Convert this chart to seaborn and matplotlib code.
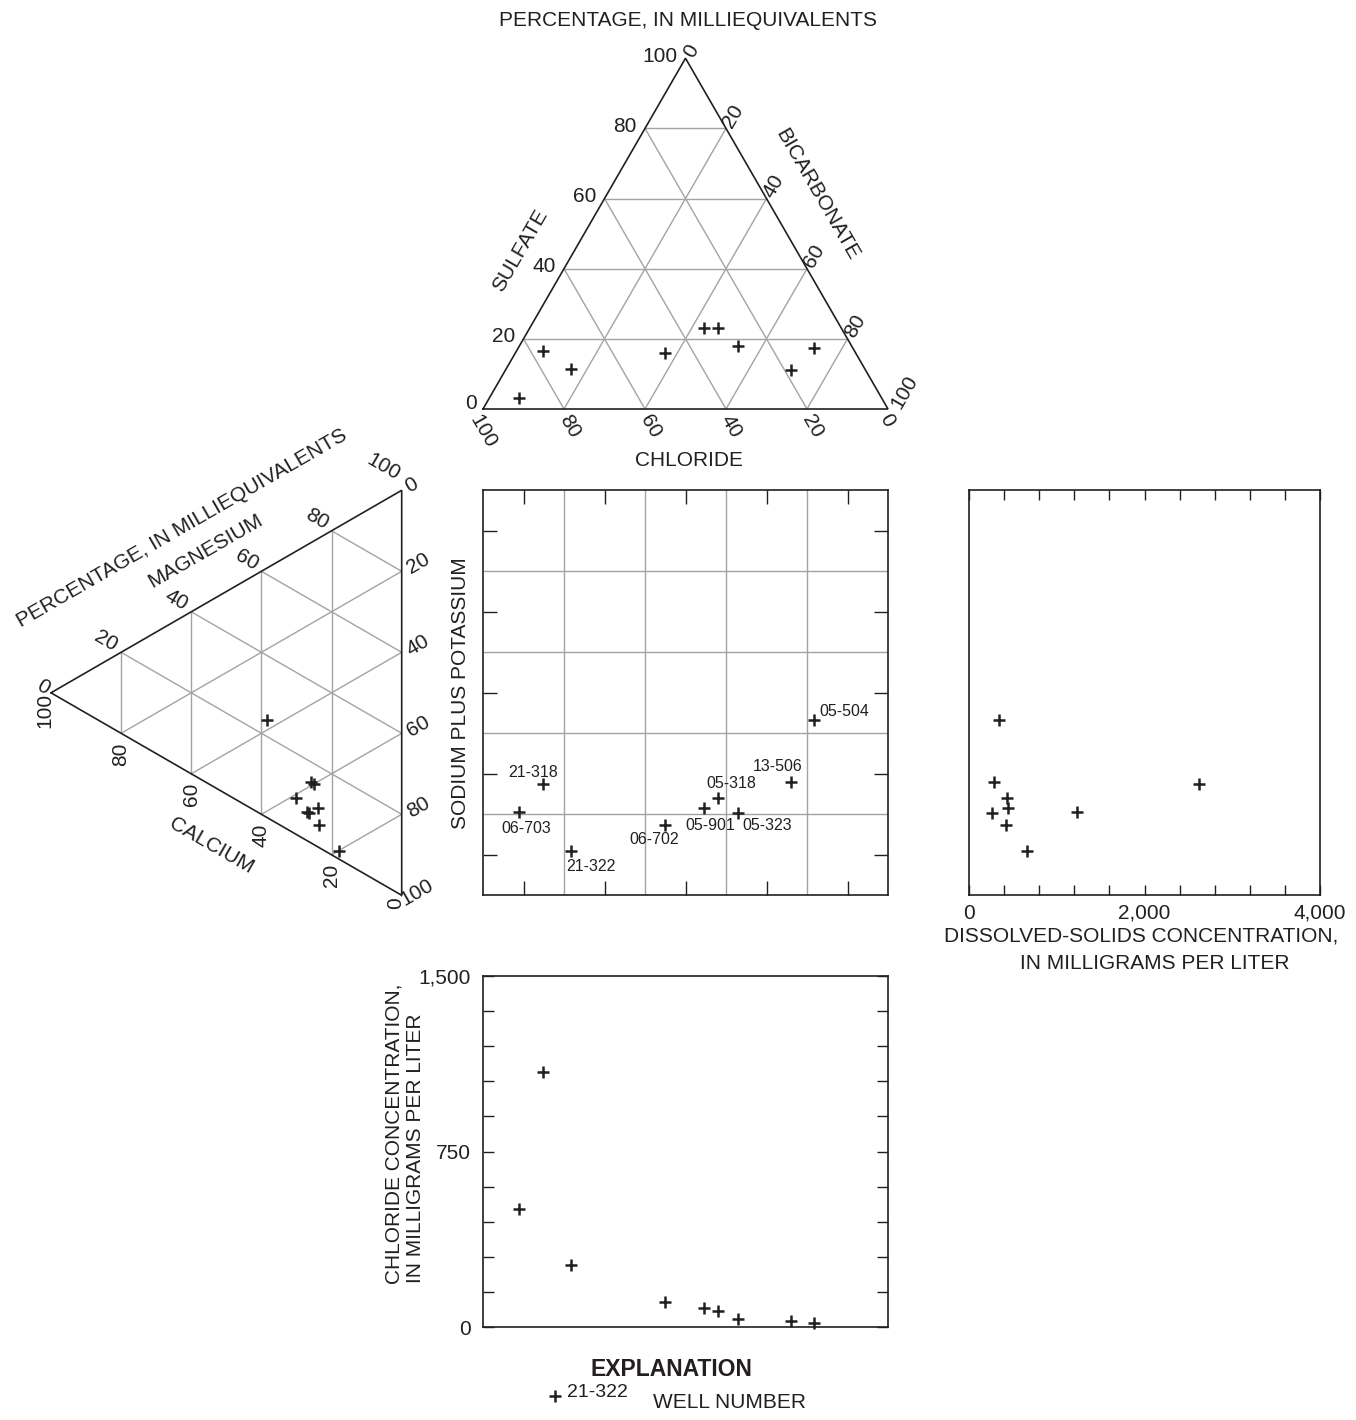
import numpy as np
import pandas as pd
import matplotlib
matplotlib.use("Agg")
import matplotlib.pyplot as plt
import seaborn as sns
from matplotlib.lines import Line2D
from matplotlib.ticker import MultipleLocator

# ---------------- data ----------------
wells = ["06-703", "21-318", "21-322", "06-702", "05-901",
         "05-318", "05-323", "13-506", "05-504"]
# anions, percent of milliequivalents
chloride_pct = [89.5, 77, 72.5, 47, 34, 30.5, 28, 18.5, 9.5]
sulfate_pct = [3, 16.5, 11.5, 16, 23, 23, 18, 11, 17.5]
bicarbonate_pct = [7.5, 6.5, 16, 37, 43, 46.5, 54, 70.5, 73]
# cations, percent of milliequivalents
calcium_pct = [27, 25, 18, 23.5, 24, 30, 26.5, 26, 38.5]
magnesium_pct = [7, 15, 2, 5.5, 9.5, 9, 7, 15, 24]
sodium_potassium_pct = [66, 60, 80, 71, 66.5, 61, 66.5, 59, 37.5]
# concentrations, mg/L
dissolved_solids_mgl = [1227, 2620, 657, 422, 448, 430, 258, 285, 346]
chloride_mgl = [505, 1090, 265, 108, 82, 70, 36, 27, 17]

grid_pct = [20, 40, 60, 80]
edge_labels = [0, 20, 40, 60, 80, 100]
square_tick_pct = [10, 30, 50, 70, 90]
ds_ticks = [0, 2000, 4000]
ds_ticklabels = ["0", "2,000", "4,000"]
cl_ticks = [0, 750, 1500]
cl_ticklabels = ["0", "750", "1,500"]

# ---------------- style ----------------
sns.set_theme(style="white")
plt.rcParams["font.family"] = ["Liberation Sans", "DejaVu Sans"]
INK = "#231f20"
GRID = "#a3a3a3"
plt.rcParams["text.color"] = INK
plt.rcParams["xtick.color"] = INK
plt.rcParams["ytick.color"] = INK

W, H = 1356, 1420
fig = plt.figure(figsize=(W / 100, H / 100), dpi=100)
fig.patch.set_facecolor("white")


def box(x0, y0, x1, y1):
    return [x0 / W, 1 - y1 / H, (x1 - x0) / W, (y1 - y0) / H]


def fp(x, y):
    return (x / W, 1 - y / H)


h = np.sqrt(3) / 2


def anion_xy(cl, so4, hco3):
    cl, so4, hco3 = (np.asarray(v, float) for v in (cl, so4, hco3))
    t = cl + so4 + hco3
    return (hco3 + so4 / 2) / t, so4 / t * h


def cation_xy(ca, mg, na):
    ca, mg, na = (np.asarray(v, float) for v in (ca, mg, na))
    t = ca + mg + na
    return (1 - ca / t) * h, (mg - na) / t / 2


df = pd.DataFrame({"well": wells, "cl": chloride_pct, "so4": sulfate_pct,
                   "hco3": bicarbonate_pct, "ca": calcium_pct,
                   "mg": magnesium_pct, "na": sodium_potassium_pct,
                   "ds": dissolved_solids_mgl, "clmg": chloride_mgl})
df["ax"], df["ay"] = anion_xy(df.cl, df.so4, df.hco3)
df["cx"], df["cy"] = cation_xy(df.ca, df.mg, df.na)

MK = dict(marker="+", s=85, color=INK, linewidth=1.8, legend=False,
          clip_on=False, zorder=5)

# geometry (pixels)
SX0, SX1 = 483, 888
SY0, SY1 = 490.3, 895.3
S = SX1 - SX0
TB = 409.0

ax_a = fig.add_axes(box(SX0, TB - S * h, SX1, TB))
ax_c = fig.add_axes(box(401.7 - S * h, SY0, 401.7, SY1))
ax_s = fig.add_axes(box(SX0, SY0, SX1, SY1))
ax_r = fig.add_axes(box(969, SY0, 1320, SY1))
ax_b = fig.add_axes(box(SX0, 975.7, SX1, 1327.3))


def lab(ax, txt, xy, off, rot=0, ha="center", va="center", size=15):
    ax.annotate(txt, xy=xy, xytext=off, textcoords="offset pixels",
                ha=ha, va=va, rotation=rot, fontsize=size,
                annotation_clip=False, color=INK)


# ---------------- anion triangle ----------------
ax_a.set_xlim(0, 1)
ax_a.set_ylim(0, h)
ax_a.axis("off")
for k in grid_pct:
    for a, b in [((100 - k, k, 0), (0, k, 100 - k)),
                 ((100 - k, 0, k), (0, 100 - k, k)),
                 ((k, 0, 100 - k), (k, 100 - k, 0))]:
        x, y = anion_xy([a[0], b[0]], [a[1], b[1]], [a[2], b[2]])
        ax_a.plot(x, y, color=GRID, lw=1.0, zorder=1)
x, y = anion_xy([100, 0, 0, 100], [0, 100, 0, 0], [0, 0, 100, 0])
ax_a.plot(x, y, color=INK, lw=1.2, zorder=2, clip_on=False,
          solid_joinstyle="miter")
sns.scatterplot(data=df, x="ax", y="ay", ax=ax_a, **MK)

for k in edge_labels:
    xy = anion_xy(100 - k, k, 0)
    off = (-6, 5) if k == 0 else (-8, 2)
    lab(ax_a, str(k), (float(xy[0]), float(xy[1])), off, ha="right")
    xy = anion_xy(0, 100 - k, k)
    off = {0: (6, 7), 100: (16, 17)}.get(k, (7.5, 12.5))
    lab(ax_a, str(k), (float(xy[0]), float(xy[1])), off, rot=60)
    xy = anion_xy(k, 0, 100 - k)
    off = {0: (-1, -11), 100: (0, -22.7)}.get(k, (5.5, -17.7))
    lab(ax_a, str(k), (float(xy[0]), float(xy[1])), off, rot=-60)

# ---------------- cation triangle ----------------
ax_c.set_xlim(0, h)
ax_c.set_ylim(-0.5, 0.5)
ax_c.axis("off")
for k in grid_pct:
    for a, b in [((k, 100 - k, 0), (k, 0, 100 - k)),
                 ((100 - k, k, 0), (0, k, 100 - k)),
                 ((100 - k, 0, k), (0, 100 - k, k))]:
        x, y = cation_xy([a[0], b[0]], [a[1], b[1]], [a[2], b[2]])
        ax_c.plot(x, y, color=GRID, lw=1.0, zorder=1)
x, y = cation_xy([100, 0, 0, 100], [0, 100, 0, 0], [0, 0, 100, 0])
ax_c.plot(x, y, color=INK, lw=1.2, zorder=2, clip_on=False,
          solid_joinstyle="miter")
sns.scatterplot(data=df, x="cx", y="cy", ax=ax_c, **MK)

for k in edge_labels:
    xy = cation_xy(0, 100 - k, k)
    off = {0: (10, 5.3), 100: (15.6, 3)}.get(k, (16.6, 7.4))
    lab(ax_c, str(k), (float(xy[0]), float(xy[1])), off, rot=30)
    xy = cation_xy(100 - k, k, 0)
    off = {0: (-7.7, 6.1), 100: (-18.4, 23.6)}.get(k, (-14.8, 11.5))
    lab(ax_c, str(k), (float(xy[0]), float(xy[1])), off, rot=-30)
    xy = cation_xy(k, 0, 100 - k)
    off = {0: (-5.7, -8), 100: (-6, -17.2)}.get(k, (0, -21))
    lab(ax_c, str(k), (float(xy[0]), float(xy[1])), off, rot=90)

# ---------------- central square ----------------
ax_s.set_xlim(0, 1)
ax_s.set_ylim(-0.5, 0.5)
for k in grid_pct:
    ax_s.axvline(k / 100, color=GRID, lw=1.0, zorder=1)
    ax_s.axhline(0.5 - k / 100, color=GRID, lw=1.0, zorder=1)
ax_s.set_xticks([k / 100 for k in square_tick_pct])
ax_s.set_yticks([0.5 - k / 100 for k in square_tick_pct])
ax_s.tick_params(which="major", direction="in", length=10, width=1.0,
                 top=True, bottom=True, left=True, right=True,
                 labelbottom=False, labelleft=False, color=INK)
sns.scatterplot(data=df, x="ax", y="cy", ax=ax_s, **MK)
ax_s.set_xlabel("")
ax_s.set_ylabel("")

well_label_off = {
    "06-703": (7.3, -16), "21-318": (-10, 11.7), "21-322": (20.3, -15.7),
    "06-702": (-10.7, -13.7), "05-901": (6.7, -17), "05-318": (13, 15),
    "05-323": (29, -12), "13-506": (-12.7, 15.3), "05-504": (30.3, 8.7),
}
for _, r in df.iterrows():
    lab(ax_s, r.well, (r.ax, r.cy), well_label_off[r.well], size=11.5)

# ---------------- dissolved solids ----------------
ax_r.set_xlim(0, 4000)
ax_r.set_ylim(-0.5, 0.5)
sns.scatterplot(data=df, x="ds", y="cy", ax=ax_r, **MK)
ax_r.set_xticks(ds_ticks, labels=ds_ticklabels)
ax_r.xaxis.set_minor_locator(MultipleLocator(400))
ax_r.set_yticks([])
ax_r.tick_params(axis="x", which="both", direction="in", length=7,
                 width=1.0, top=True, bottom=True, labelsize=15, pad=6,
                 color=INK)
ax_r.set_xlabel("")
ax_r.set_ylabel("")

# ---------------- chloride concentration ----------------
ax_b.set_xlim(0, 1)
ax_b.set_ylim(0, 1500)
sns.scatterplot(data=df, x="ax", y="clmg", ax=ax_b, **MK)
ax_b.set_yticks(cl_ticks, labels=cl_ticklabels)
ax_b.yaxis.set_minor_locator(MultipleLocator(150))
ax_b.set_xticks([])
ax_b.tick_params(axis="y", which="both", direction="in", length=8,
                 width=1.0, left=True, right=True, labelsize=15, pad=9,
                 color=INK)
ax_b.set_xlabel("")
ax_b.set_ylabel("")

for ax in (ax_s, ax_r, ax_b):
    for sp in ax.spines.values():
        sp.set_color(INK)
        sp.set_linewidth(1.2)
        sp.set_visible(True)

# ---------------- text ----------------
T = dict(ha="center", va="center", fontsize=15, color=INK)
fig.text(*fp(688, 20), "PERCENTAGE, IN MILLIEQUIVALENTS", **T)
fig.text(*fp(520, 250.7), "SULFATE", rotation=60, **T)
fig.text(*fp(817.3, 194), "BICARBONATE", rotation=-60, **T)
fig.text(*fp(689.3, 460), "CHLORIDE", **T)
fig.text(*fp(181.5, 528.5), "PERCENTAGE, IN MILLIEQUIVALENTS", rotation=30, **T)
fig.text(*fp(205, 550.7), "MAGNESIUM", rotation=30, **T)
fig.text(*fp(211.7, 845.7), "CALCIUM", rotation=-30, **T)
fig.text(*fp(461, 693), "SODIUM PLUS POTASSIUM", rotation=90, **T)
fig.text(*fp(1141, 936), "DISSOLVED-SOLIDS CONCENTRATION,", **T)
fig.text(*fp(1155, 963.3), "IN MILLIGRAMS PER LITER", **T)
fig.text(*fp(393.7, 1134), "CHLORIDE CONCENTRATION,", rotation=90, **T)
fig.text(*fp(415.7, 1148), "IN MILLIGRAMS PER LITER", rotation=90, **T)

fig.text(*fp(671.5, 1370), "EXPLANATION", ha="center", va="center",
         fontsize=16.5, fontweight="bold", color=INK)
fig.add_artist(Line2D([555 / W], [1 - 1396 / H], marker="+", ms=9, mew=1.8,
                      color=INK, linestyle="none", transform=fig.transFigure))
fig.text(*fp(567, 1392.7), "21-322", ha="left", va="center", fontsize=14,
         color=INK)
fig.text(*fp(653, 1402), "WELL NUMBER", ha="left", va="center", fontsize=15,
         color=INK)

fig.savefig("out.png", dpi=100, facecolor="white")
